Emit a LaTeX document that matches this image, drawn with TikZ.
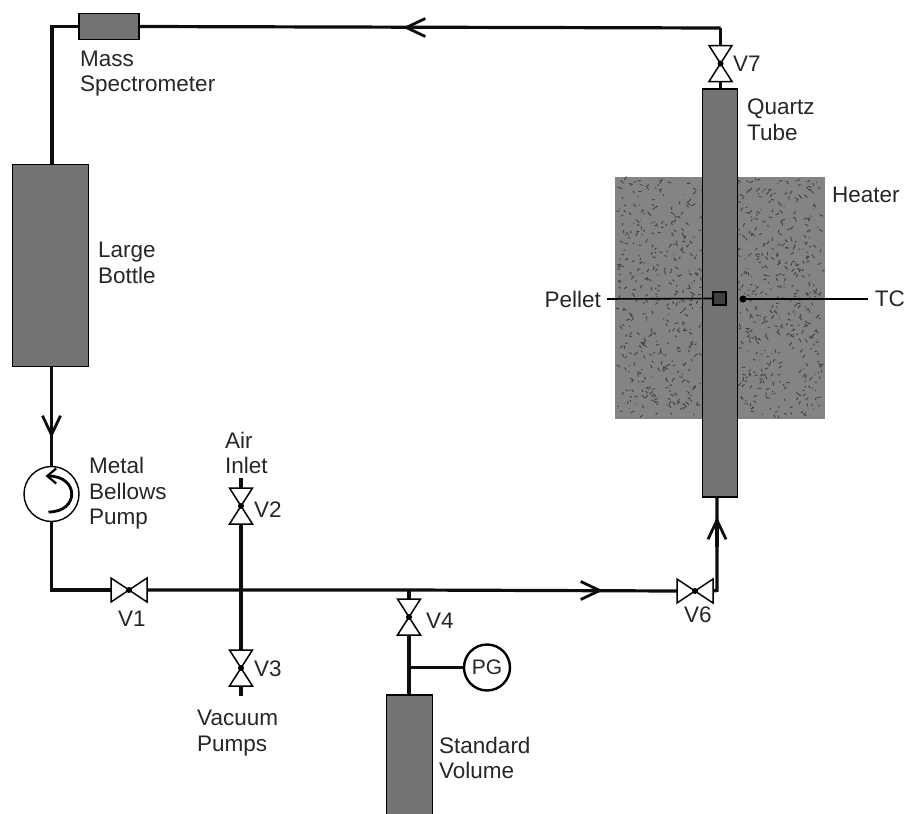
\documentclass[tikz,border=0pt]{standalone}
\usepackage{fontspec}
\setmainfont{Liberation Sans}
\usepackage{xcolor}
\usetikzlibrary{arrows.meta, positioning, calc}
\definecolor{kfill}{HTML}{737373}
\definecolor{kheat}{HTML}{848484}
\tikzset{
  pipe/.style={line width=3.2pt, draw=black!95},
  flow/.style={line width=3.2pt, draw=black!95, -{Straight Barb[length=19pt, width=18pt, line width=2.8pt]}},
  vessel/.style={draw=black, line width=1.8pt, fill=kfill, inner sep=0pt},
  label/.style={font=\fontsize{22.5}{25.5}\selectfont, align=left, inner sep=0pt, text=black!85},
  valvetri/.style={draw=black, line width=1.5pt, fill=white, line join=miter},
}
% valve: name, centre
\newcommand{\vvalve}[2]{%
  \coordinate (#1) at #2;
  \coordinate (#1t) at ($(#1)+(0,-18)$);
  \coordinate (#1b) at ($(#1)+(0,18)$);
  \draw[valvetri] (#1) -- ($(#1)+(-11.5,-18)$) -- ($(#1)+(11.5,-18)$) -- cycle;
  \draw[valvetri] (#1) -- ($(#1)+(-11.5,18)$) -- ($(#1)+(11.5,18)$) -- cycle;
  \fill (#1) circle (3);
}
\newcommand{\hvalve}[2]{%
  \coordinate (#1) at #2;
  \coordinate (#1l) at ($(#1)+(-18,0)$);
  \coordinate (#1r) at ($(#1)+(18,0)$);
  \draw[valvetri] (#1) -- ($(#1)+(-18,-12)$) -- ($(#1)+(-18,12)$) -- cycle;
  \draw[valvetri] (#1) -- ($(#1)+(18,-12)$) -- ($(#1)+(18,12)$) -- cycle;
  \fill (#1) circle (3);
}
\begin{document}
\begin{tikzpicture}[x=1pt, y=-1pt]
\useasboundingbox (0,0) rectangle (906,814);
% heater
\fill[kheat] (615,177) rectangle (825,419);
\pgfmathsetseed{4217}
\foreach \i in {1,...,1100} {
  \pgfmathsetmacro{\hx}{618+rnd*204}
  \pgfmathsetmacro{\hy}{180+rnd*236}
  \pgfmathsetmacro{\hdx}{(rnd-0.5)*7}
  \pgfmathsetmacro{\hdy}{(rnd-0.5)*7}
  \draw[black!75, line width=0.9pt] (\hx,\hy) -- ++(\hdx,\hdy);
}
% vessels
\node[vessel, minimum width=35pt, minimum height=408pt] (tube) at (720,293) {};
\node[vessel, minimum width=76pt, minimum height=202pt] (bottle) at (50.5,265.5) {};
\node[vessel, minimum width=60pt, minimum height=26pt] (ms) at (109,26.5) {};
\node[vessel, minimum width=46pt, minimum height=125pt] (stdvol) at (409.5,757.5) {};
\node[vessel, fill=black!75, line width=2.4pt, minimum width=13pt, minimum height=13pt] (pellet) at (719.5,298.5) {};
% valves
\hvalve{vone}{(129,590)}
\vvalve{vtwo}{(241,506)}
\vvalve{vthree}{(241,668)}
\vvalve{vfour}{(409,617)}
\hvalve{vsix}{(695,591)}
\vvalve{vseven}{(720.5,63.5)}
% pump and gauge
\node[draw=black, line width=1.4pt, circle, minimum size=55pt, inner sep=0pt, fill=white] (pump) at (51.5,494) {};
\node[draw=black, line width=2.4pt, circle, minimum size=46pt, inner sep=0pt, font=\fontsize{21}{24}\selectfont, text=black!85] (pg) at (487,667.5) {PG};
\draw[line width=2.8pt, -{Straight Barb[length=9pt, width=15pt, line width=2.2pt]}]
  ($(pump)+(-3,18)$) .. controls ($(pump)+(28,18)$) and ($(pump)+(28,-18)$) .. ($(pump)+(-6,-18)$);
% piping
\coordinate (ctl) at (52,26.5);
\coordinate (ctr) at (720.5,28);
\coordinate (cbl) at (51.5,590);
\coordinate (cbr) at (717,590.5);
\coordinate (jtwo) at (241,590);
\coordinate (jfour) at (409,590);
\coordinate (jpg) at (409,667.5);
\coordinate (aira) at (241,478);
\coordinate (vaca) at (241,696);
\coordinate (atop) at (403,27.5);
\coordinate (amid) at (603,590.5);
\coordinate (aup) at (717,517);
\coordinate (adown) at (51.5,438);
\draw[pipe] (bottle.north -| ctl) -- (ctl) -- (ms.west);
\draw[pipe] (ctr) -- (ms.east);
\draw[flow] ($(atop)+(30,0)$) -- (atop);
\draw[pipe] (ctr) -- (vsevent);
\draw[pipe] (vsevenb) -- (tube.north -| vseven);
\draw[pipe] (bottle.south -| pump) -- (pump.north);
\draw[flow] ($(adown)+(0,-30)$) -- (adown);
\draw[pipe] (pump.south) -- (cbl) -- (vonel);
\draw[pipe] (voner) -- (jtwo) -- (jfour) -- (vsixl);
\draw[flow] ($(amid)+(-30,0)$) -- (amid);
\draw[pipe] (vsixr) -- (cbr) -- (tube.south -| cbr);
\draw[flow] ($(aup)+(0,30)$) -- (aup);
\draw[pipe] (aira) -- (vtwot);
\draw[pipe] (vtwob) -- (jtwo);
\draw[pipe] (jtwo) -- (vthreet);
\draw[pipe] (vthreeb) -- (vaca);
\draw[pipe] (jfour) -- (vfourt);
\draw[pipe] (vfourb) -- (stdvol.north -| vfour);
\draw[pipe] (jpg) -- (pg.west);
% labels
\node[label, anchor=west] (lms) at (80,73.5) {Mass\\Spectrometer};
\node[label, anchor=west] (lbottle) at (98,263) {Large\\Bottle};
\node[label, anchor=west] (lpump) at (89,493.5) {Metal\\Bellows\\Pump};
\node[label, anchor=west] (lair) at (225,453) {Air\\Inlet};
\node[label, anchor=west] (lvone) at (118,619) {V1};
\node[label, anchor=west] (lvtwo) at (254,510) {V2};
\node[label, anchor=west] (lvthree) at (254,669) {V3};
\node[label, anchor=west] (lvfour) at (426,621) {V4};
\node[label, anchor=west] (lvsix) at (684,615) {V6};
\node[label, anchor=west] (lvseven) at (733,64) {V7};
\node[label, anchor=west] (lvac) at (197,733) {Vacuum\\Pumps};
\node[label, anchor=west] (lstd) at (439,758) {Standard\\Volume};
\node[label, anchor=west] (lquartz) at (747,120) {Quartz\\Tube};
\node[label, anchor=west] (lheat) at (832,195) {Heater};
\node[label, anchor=east] (lpellet) at (601,299) {Pellet};
\node[label, anchor=east] (ltc) at (905,299) {TC};
\coordinate (tcend) at (743,299);
\coordinate (pelletstart) at (607,299);
\coordinate (tcstart) at (868,299);
\draw[line width=1.6pt] (pelletstart) -- (pellet.west);
\draw[line width=2.6pt] (tcstart) -- (tcend);
\fill (tcend) circle (3.5);
\end{tikzpicture}
\end{document}
